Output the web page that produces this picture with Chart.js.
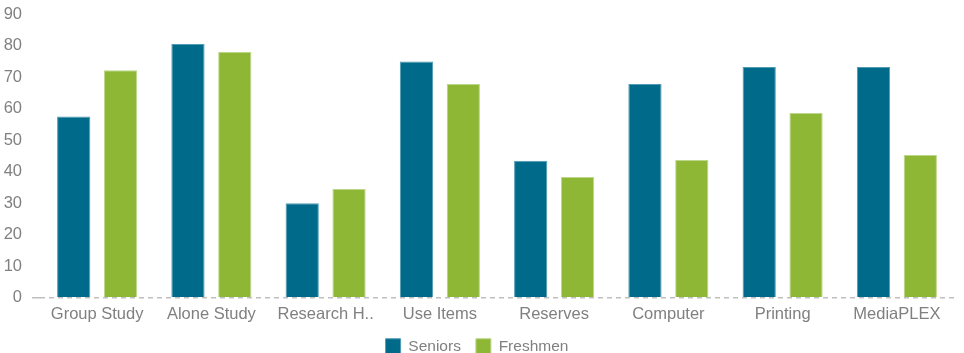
<!DOCTYPE html>
<html>
<head>
<meta charset="utf-8">
<script src="https://cdn.jsdelivr.net/npm/chart.js@4"></script>
<style>
  html, body { margin: 0; padding: 0; background: #fff; }
  #wrap { width: 964px; height: 353px; }
</style>
</head>
<body>
<div id="wrap"><canvas id="chart" width="964" height="353"></canvas></div>
<script>
const categories = ["Group Study", "Alone Study", "Research H..", "Use Items", "Reserves", "Computer", "Printing", "MediaPLEX"];
const seniors = [57.5, 80.5, 30, 75, 43.5, 67.8, 73.2, 73.2];
const freshmen = [72.2, 78, 34.5, 67.8, 38.3, 43.7, 58.6, 45.3];
const yTicks = [0, 10, 20, 30, 40, 50, 60, 70, 80, 90];

const textColor = "#808080";
const fontFamily = "'Liberation Sans', Arial, sans-serif";

new Chart(document.getElementById("chart"), {
  type: "bar",
  data: {
    labels: categories,
    datasets: [
      {
        label: "Seniors",
        data: seniors,
        backgroundColor: "#006A8A",
        borderColor: "#4F9BB3",
        borderWidth: 1
      },
      {
        label: "Freshmen",
        data: freshmen,
        backgroundColor: "#8DB735",
        borderColor: "#BCD68A",
        borderWidth: 1
      }
    ]
  },
  options: {
    responsive: false,
    animation: false,
    devicePixelRatio: 1,
    layout: { padding: { top: 0, right: 10, left: 0, bottom: -11 } },
    datasets: {
      bar: { categoryPercentage: 0.82, barPercentage: 0.71 }
    },
    scales: {
      x: {
        grid: { display: false, drawTicks: false },
        border: { display: false },
        afterFit: scale => {
          scale.height = scale.height - 8;
        },
        ticks: { color: textColor, font: { family: fontFamily, size: 16.5 }, padding: 7, maxRotation: 0, autoSkip: false }
      },
      y: {
        min: 0,
        max: 90,
        afterBuildTicks: scale => {
          scale.ticks = yTicks.map(v => ({ value: v }));
        },
        afterFit: scale => {
          scale.width = 40;
        },
        grid: {
          drawTicks: true,
          tickLength: 8,
          color: ctx => (ctx.tick && ctx.tick.value === 0 ? "#BFBFBF" : "rgba(0,0,0,0)"),
          lineWidth: 1.5
        },
        border: { display: false, dash: [5, 4] },
        ticks: { color: textColor, font: { family: fontFamily, size: 16.5, lineHeight: 0.5 }, padding: 10 }
      }
    },
    plugins: {
      tooltip: { enabled: false },
      legend: {
        position: "bottom",
        labels: {
          color: textColor,
          font: { family: fontFamily, size: 15.5 },
          boxWidth: 15,
          boxHeight: 15,
          padding: 15
        }
      }
    }
  }
});
</script>
</body>
</html>
